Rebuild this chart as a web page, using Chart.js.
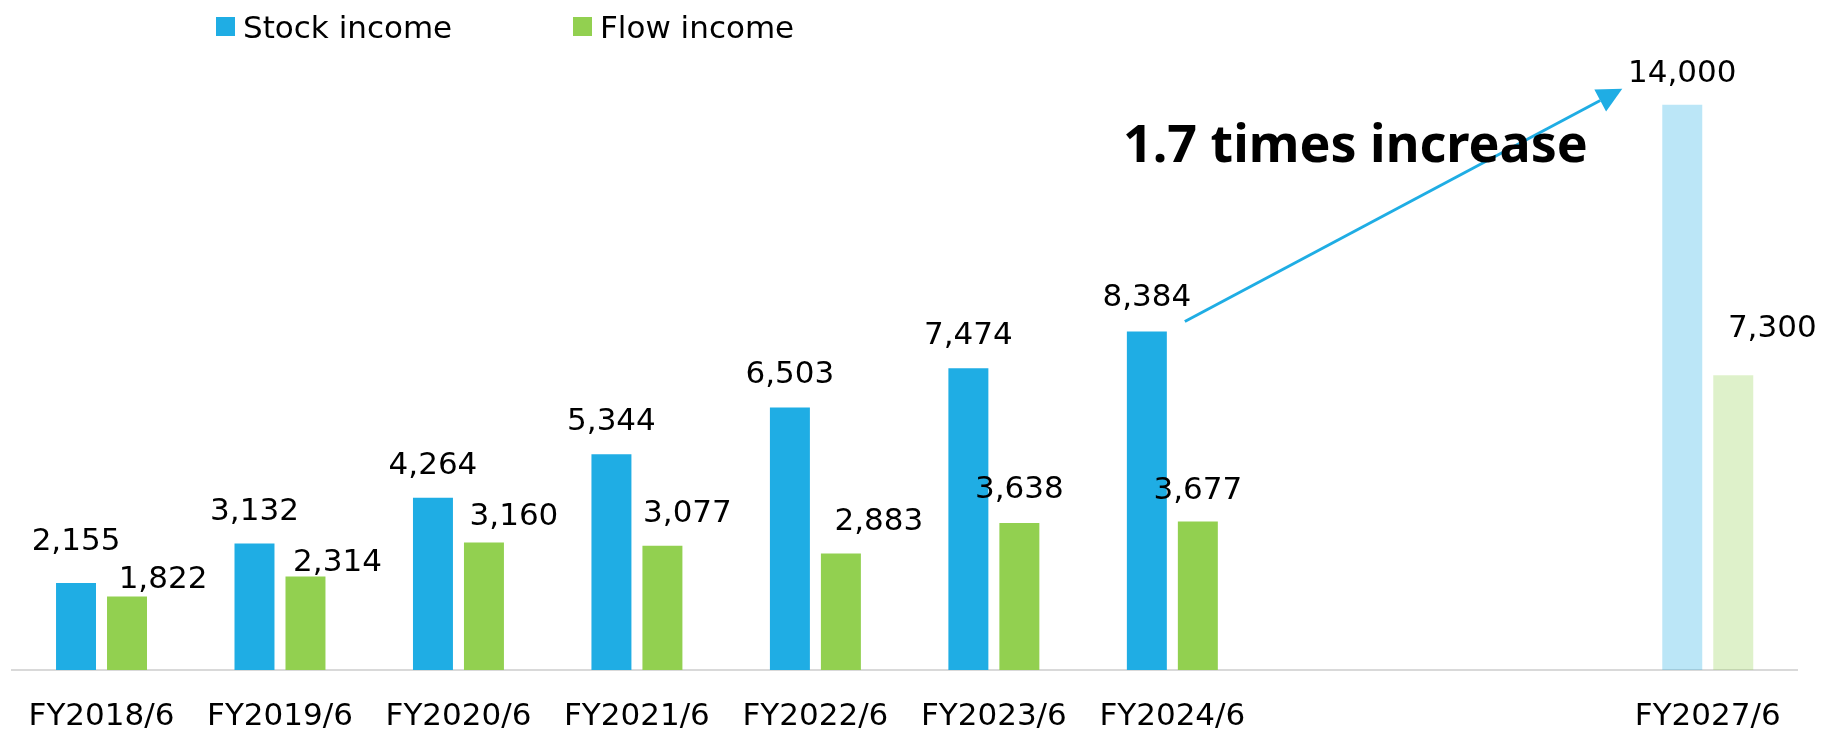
<!DOCTYPE html>
<html>
<head>
<meta charset="utf-8">
<script src="https://cdn.jsdelivr.net/npm/chart.js@4"></script>
<style>
  html, body { margin: 0; padding: 0; background: #fff; }
  #wrap { width: 1822px; height: 734px; }
</style>
</head>
<body>
<div id="wrap"><canvas id="incomeChart"></canvas></div>
<script>
const categories = ["FY2018/6", "FY2019/6", "FY2020/6", "FY2021/6", "FY2022/6", "FY2023/6", "FY2024/6", "", "", "FY2027/6"];
const stockIncome = [2155, 3132, 4264, 5344, 6503, 7474, 8384, null, null, 14000];
const flowIncome = [1822, 2314, 3160, 3077, 2883, 3638, 3677, null, null, 7300];
const seriesNames = ["Stock income", "Flow income"];
const calloutText = "1.7 times increase";

const planIndex = 9;      // FY2027/6 is the target, drawn pale
const arrowFrom = 6;      // arrow runs from FY2024/6 stock bar...
const arrowTo = 9;        // ...to the FY2027/6 stock bar

// value labels were placed by hand in the original: [dx, lift above bar top]
const stockLabelNudge = [[0, 33], [0, 24], [0, 24], [0, 24], [0, 24], [0, 24], [0, 25], null, null, [0, 23]];
const flowLabelNudge = [[36, 8], [32, 6], [30, 17], [25, 24], [38, 24], [0, 25], [0, 23], null, null, [39, 38]];

const STOCK = "#1FADE4";
const STOCK_PALE = "rgba(31, 173, 228, 0.3)";
const FLOW = "#92D050";
const FLOW_PALE = "rgba(146, 208, 80, 0.3)";
const FONT = "\"DejaVu Sans\", Verdana, sans-serif";

const valueLabels = {
    id: "valueLabels",
    afterDatasetsDraw(chart) {
        const ctx = chart.ctx;
        const nudges = [stockLabelNudge, flowLabelNudge];
        ctx.save();
        ctx.font = "31px " + FONT;
        ctx.fillStyle = "#000";
        ctx.textAlign = "center";
        ctx.textBaseline = "alphabetic";
        chart.data.datasets.forEach((ds, di) => {
            chart.getDatasetMeta(di).data.forEach((bar, i) => {
                const v = ds.data[i];
                if (v == null) return;
                const [dx, lift] = nudges[di][i];
                ctx.fillText(v.toLocaleString("en-US"), bar.x + dx, bar.y - lift);
            });
        });
        ctx.restore();
    }
};

const legendBoxes = {
    id: "legendBoxes",
    afterDraw(chart) {
        const ctx = chart.ctx;
        const spots = [216, 573];
        ctx.save();
        ctx.font = "31px " + FONT;
        ctx.textBaseline = "alphabetic";
        ctx.textAlign = "left";
        chart.data.datasets.forEach((ds, di) => {
            ctx.fillStyle = di === 0 ? STOCK : FLOW;
            ctx.fillRect(spots[di], 17, 19, 19);
            ctx.fillStyle = "#000";
            ctx.fillText(ds.label, spots[di] + 27, 38);
        });
        ctx.restore();
    }
};

const growthArrow = {
    id: "growthArrow",
    afterDraw(chart) {
        const ctx = chart.ctx;
        const bars = chart.getDatasetMeta(0).data;
        const from = bars[arrowFrom];
        const to = bars[arrowTo];
        const x0 = from.x + from.width / 2 + 18;
        const y0 = from.y - 10;
        const x1 = to.x - to.width / 2 - 40;
        const y1 = to.y - 16;
        const ang = Math.atan2(y1 - y0, x1 - x0);
        const head = 25;
        const half = 12.5;
        const bx = x1 - head * Math.cos(ang);
        const by = y1 - head * Math.sin(ang);

        ctx.save();
        ctx.strokeStyle = STOCK;
        ctx.fillStyle = STOCK;
        ctx.lineWidth = 3;
        ctx.beginPath();
        ctx.moveTo(x0, y0);
        ctx.lineTo(bx, by);
        ctx.stroke();
        ctx.beginPath();
        ctx.moveTo(x1, y1);
        ctx.lineTo(bx + half * Math.sin(ang), by - half * Math.cos(ang));
        ctx.lineTo(bx - half * Math.sin(ang), by + half * Math.cos(ang));
        ctx.closePath();
        ctx.fill();

        ctx.fillStyle = "#000";
        ctx.font = "bold 52px \"Noto Sans\", sans-serif";
        ctx.textAlign = "left";
        ctx.textBaseline = "alphabetic";
        ctx.fillText(calloutText, 1123, 162);
        ctx.restore();
    }
};

const ctx = document.getElementById("incomeChart").getContext("2d");
new Chart(ctx, {
    type: "bar",
    data: {
        labels: categories,
        datasets: [{
            label: seriesNames[0],
            data: stockIncome,
            backgroundColor: c => c.dataIndex === planIndex ? STOCK_PALE : STOCK,
            categoryPercentage: 0.5714,
            barPercentage: 0.784
        }, {
            label: seriesNames[1],
            data: flowIncome,
            backgroundColor: c => c.dataIndex === planIndex ? FLOW_PALE : FLOW,
            categoryPercentage: 0.5714,
            barPercentage: 0.784
        }]
    },
    options: {
        responsive: true,
        maintainAspectRatio: false,
        animation: false,
        devicePixelRatio: 1,
        layout: { padding: { top: 24, left: 12, right: 25, bottom: 0 } },
        plugins: {
            legend: { display: false },
            tooltip: { enabled: false }
        },
        scales: {
            x: {
                grid: { display: false, drawTicks: false },
                border: { display: true, color: "#d9d9d9", width: 2 },
                ticks: {
                    color: "#000",
                    font: { family: FONT, size: 31 },
                    padding: 28,
                    maxRotation: 0,
                    autoSkip: false
                },
                afterFit: s => { s.height = 64; }
            },
            y: { display: false, min: 0, max: 16000 }
        }
    },
    plugins: [valueLabels, legendBoxes, growthArrow]
});
</script>
</body>
</html>
